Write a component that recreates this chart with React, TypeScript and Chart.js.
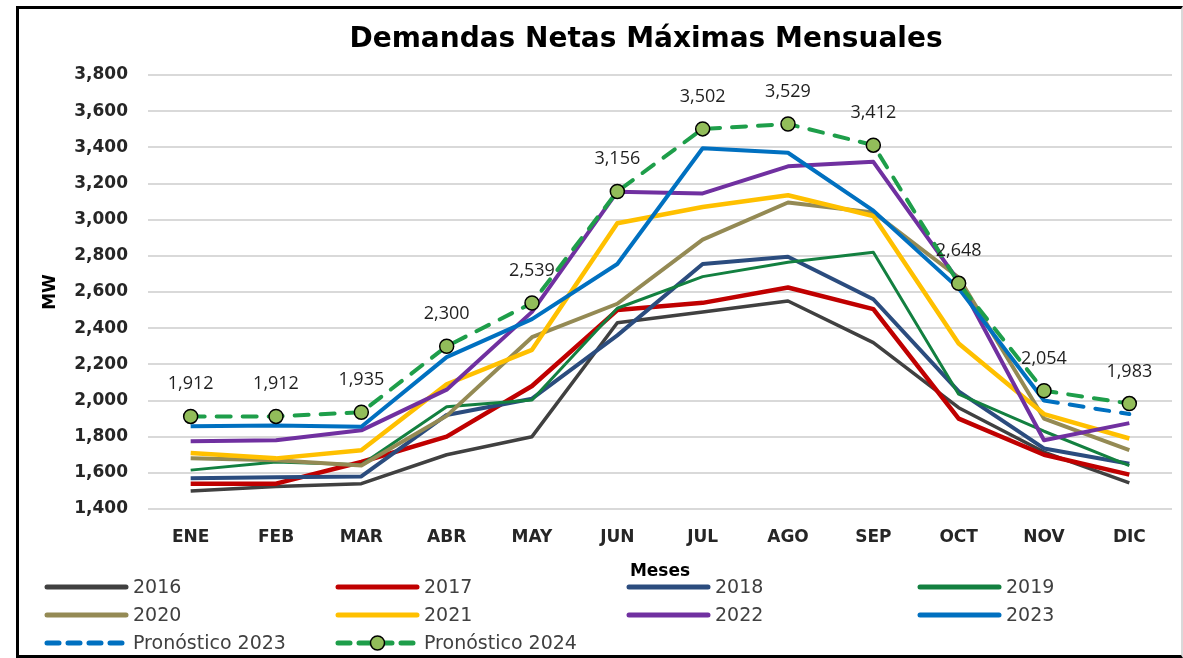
import React, { useEffect, useRef } from "react";
import { Chart, registerables } from "chart.js";

Chart.register(...registerables);

const chartTitle = "Demandas Netas Máximas Mensuales";
const xAxisTitle = "Meses";
const yAxisTitle = "MW";

const months = ["ENE", "FEB", "MAR", "ABR", "MAY", "JUN", "JUL", "AGO", "SEP", "OCT", "NOV", "DIC"];

const yMin = 1400;
const yMax = 3800;
const yStep = 200;

const d2016 = [1500, 1525, 1540, 1700, 1800, 2430, 2490, 2550, 2320, 1960, 1715, 1545];
const d2017 = [1540, 1540, 1660, 1800, 2080, 2500, 2540, 2625, 2505, 1900, 1700, 1590];
const d2018 = [1570, 1575, 1580, 1920, 2010, 2360, 2755, 2795, 2560, 2050, 1735, 1650];
const d2019 = [1615, 1660, 1645, 1965, 2003, 2510, 2685, 2765, 2820, 2035, 1830, 1640];
const d2020 = [1680, 1670, 1640, 1915, 2350, 2535, 2890, 3095, 3040, 2680, 1900, 1725];
const d2021 = [1710, 1680, 1725, 2090, 2280, 2980, 3070, 3135, 3020, 2315, 1925, 1790];
const d2022 = [1775, 1780, 1835, 2060, 2490, 3155, 3145, 3295, 3320, 2660, 1780, 1875];
const d2023 = [1858, 1862, 1855, 2240, 2450, 2755, 3395, 3370, 3050, 2620, 2000, null];
const pron2023 = [null, null, null, null, null, null, null, null, null, null, 2000, 1925];
const pron2024 = [1912, 1912, 1935, 2300, 2539, 3156, 3502, 3529, 3412, 2648, 2054, 1983];

const seriesNames = ["2016", "2017", "2018", "2019", "2020", "2021", "2022", "2023", "Pronóstico 2023", "Pronóstico 2024"];
const seriesData = [d2016, d2017, d2018, d2019, d2020, d2021, d2022, d2023, pron2023, pron2024];
const seriesColors = ["#404040", "#C00000", "#2B4C7E", "#138040", "#948A54", "#FFC000", "#7030A0", "#0070C0", "#0070C0", "#1E9E4A"];
const seriesWidths = [3.5, 4.5, 4, 3, 4, 4.5, 4, 4, 4, 4];
const seriesDashed = [false, false, false, false, false, false, false, false, true, true];
const labelledSeries = "Pronóstico 2024";
const markerFill = "#92BD5A";

const fmt = (v: number) => v.toLocaleString("en-US");

const titlePlugin = {
  id: "customTitle",
  afterDraw(chart: any) {
    const ctx = chart.ctx;
    ctx.save();
    ctx.font = "bold 28px 'DejaVu Sans'";
    ctx.fillStyle = "#000000";
    ctx.textAlign = "center";
    ctx.textBaseline = "alphabetic";
    ctx.fillText(chartTitle, 646, 47);
    ctx.restore();
  },
};

const valueLabelPlugin = {
  id: "valueLabels",
  afterDatasetsDraw(chart: any) {
    const ctx = chart.ctx;
    chart.data.datasets.forEach((ds: any, i: number) => {
      if (ds.label !== labelledSeries) return;
      const meta = chart.getDatasetMeta(i);
      ctx.save();
      ctx.font = "18px 'Open Sans'";
      ctx.fillStyle = "#1F1F1F";
      ctx.textAlign = "center";
      ctx.textBaseline = "alphabetic";
      meta.data.forEach((pt: any, j: number) => {
        const v = ds.data[j];
        if (v == null) return;
        ctx.fillText(fmt(v), pt.x, pt.y - 27);
      });
      ctx.restore();
    });
  },
};

const legendPlugin = {
  id: "gridLegend",
  afterDraw(chart: any) {
    const ctx = chart.ctx;
    const colX = [45, 336, 627, 918];
    const rowY = [587, 615, 643];
    const lineLen = 81;
    ctx.save();
    chart.data.datasets.forEach((ds: any, i: number) => {
      const x = colX[i % 4];
      const y = rowY[Math.floor(i / 4)];
      ctx.beginPath();
      ctx.strokeStyle = ds.borderColor;
      ctx.lineWidth = 5;
      ctx.lineCap = "round";
      ctx.setLineDash(ds.borderDash && ds.borderDash.length ? [12, 9] : []);
      ctx.moveTo(x + 2, y);
      ctx.lineTo(x + lineLen, y);
      ctx.stroke();
      ctx.setLineDash([]);
      if (ds.pointRadius > 0) {
        ctx.beginPath();
        ctx.arc(x + lineLen / 2 + 1, y, ds.pointRadius, 0, Math.PI * 2);
        ctx.fillStyle = ds.pointBackgroundColor;
        ctx.fill();
        ctx.lineWidth = ds.pointBorderWidth;
        ctx.strokeStyle = ds.pointBorderColor;
        ctx.stroke();
      }
      ctx.font = "19px 'DejaVu Sans'";
      ctx.fillStyle = "#404040";
      ctx.textAlign = "left";
      ctx.textBaseline = "middle";
      ctx.fillText(ds.label, x + 88, y + 1);
    });
    ctx.restore();
  },
};

export default function App() {
  const canvasRef = useRef<HTMLCanvasElement | null>(null);

  useEffect(() => {
    if (!canvasRef.current) return;
    const n = seriesNames.length;
    const datasets = seriesNames.map((name, i) => {
      const isMarker = name === labelledSeries;
      return {
        label: name,
        data: seriesData[i],
        borderColor: seriesColors[i],
        backgroundColor: seriesColors[i],
        borderWidth: seriesWidths[i],
        borderDash: seriesDashed[i] ? [14, 12] : [],
        borderCapStyle: seriesDashed[i] ? "round" : "butt",
        borderJoinStyle: "round",
        pointRadius: isMarker ? 7 : 0,
        pointHoverRadius: isMarker ? 7 : 0,
        pointBackgroundColor: markerFill,
        pointBorderColor: "#000000",
        pointBorderWidth: 1.5,
        tension: 0,
        fill: false,
        spanGaps: false,
        order: n - i,
      };
    });

    const chart = new Chart(canvasRef.current, {
      type: "line",
      data: { labels: months, datasets: datasets as any },
      options: {
        responsive: false,
        animation: false,
        devicePixelRatio: 1,
        layout: { padding: { left: 30, right: 11, top: 75, bottom: 76 } },
        plugins: {
          legend: { display: false },
          title: { display: false },
          tooltip: { enabled: false },
        },
        scales: {
          x: {
            offset: true,
            grid: { display: false, drawTicks: false },
            border: { display: false },
            ticks: {
              color: "#262626",
              font: { family: "'DejaVu Sans'", size: 17, weight: "bold" },
              padding: 18,
              maxRotation: 0,
              autoSkip: false,
            },
            title: {
              display: true,
              text: xAxisTitle,
              color: "#000000",
              font: { family: "'DejaVu Sans'", size: 17, weight: "bold" },
              padding: { top: 0, bottom: 0 },
            },
            afterFit: (s: any) => {
              s.height = 73;
            },
          },
          y: {
            min: yMin,
            max: yMax,
            grid: { color: "#D9D9D9", lineWidth: 2, drawTicks: false },
            border: { display: false },
            ticks: {
              stepSize: yStep,
              color: "#262626",
              font: { family: "'DejaVu Sans'", size: 17, weight: "bold" },
              padding: 20,
              callback: (v: any) => fmt(Number(v)),
            },
            title: {
              display: true,
              text: yAxisTitle,
              color: "#000000",
              font: { family: "'DejaVu Sans'", size: 17, weight: "bold" },
              padding: { top: 10, bottom: 0 },
            },
            afterFit: (s: any) => {
              s.width = 118;
            },
          },
        },
      } as any,
      plugins: [titlePlugin, valueLabelPlugin, legendPlugin],
    });

    return () => chart.destroy();
  }, []);

  return (
    <div style={{ position: "absolute", left: 0, top: 0, width: 1183, height: 658, background: "#ffffff" }}>
      <canvas ref={canvasRef} width={1183} height={658} style={{ position: "absolute", left: 0, top: 0, width: 1183, height: 658 }} />
      <div
        style={{
          position: "absolute",
          left: 16,
          top: 6,
          width: 1167,
          height: 652,
          boxSizing: "border-box",
          borderTop: "3px solid #000",
          borderLeft: "3px solid #000",
          borderBottom: "3px solid #000",
          borderRight: "2px solid #D9D9D9",
          pointerEvents: "none",
        }}
      />
    </div>
  );
}
